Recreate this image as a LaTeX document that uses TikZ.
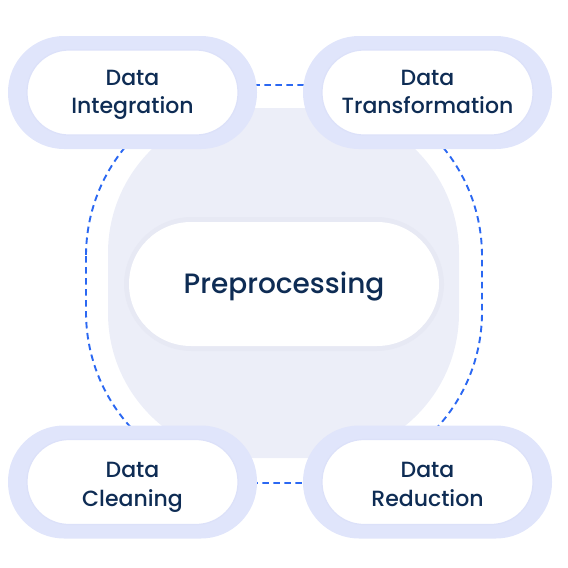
\documentclass[tikz,border=0pt]{standalone}
\usepackage{fontspec}
\setmainfont{Poppins}
\newfontfamily\labfont{Poppins Medium}
\newfontfamily\cenfont{Poppins Medium}
\definecolor{bgc}{HTML}{ECEEF8}
\definecolor{ringc}{HTML}{E0E5FB}
\definecolor{ringdark}{HTML}{DCE1F9}
\definecolor{haloc}{HTML}{E7E9F4}
\definecolor{dashc}{HTML}{2B68F2}
\definecolor{navy}{HTML}{0E2C54}
\tikzset{
  ring/.style={rectangle, rounded corners=56pt, fill=ringc, minimum width=249pt, minimum height=113pt, inner sep=0pt},
  lab/.style={rectangle, rounded corners=42pt, fill=white, draw=ringdark, line width=1.2pt, minimum width=211pt, minimum height=85pt, inner sep=0pt},
  labtext/.style={align=center, text=navy, inner sep=0pt, yshift=-2.5pt, font=\labfont\fontsize{22}{28.5}\selectfont},
  halo/.style={rectangle, rounded corners=68pt, fill=haloc, minimum width=320pt, minimum height=134pt, inner sep=0pt},
  center/.style={rectangle, rounded corners=62pt, fill=white, minimum width=310pt, minimum height=124pt, inner sep=0pt},
  centext/.style={text=navy, inner sep=0pt, yshift=-3pt, font=\cenfont\fontsize{28}{32}\selectfont},
  dashline/.style={draw=dashc, line width=1.9pt, dash pattern=on 6.5pt off 4.5pt}
}
\begin{document}
\begin{tikzpicture}[x=1pt,y=-1pt]
\useasboundingbox (0,0) rectangle (568,568);
\fill[bgc, rounded corners=145pt] (108,108) rectangle (459,458);
\draw[dashline, rounded corners=171pt] (86,85) rectangle (482,483);
\node[ring] (r1) at (132.5,92.5) {};
\node[ring] (r2) at (427.5,92.5) {};
\node[ring] (r3) at (132.5,482) {};
\node[ring] (r4) at (427.5,482) {};
\node[lab] (p1) at (r1) {};
\node[lab] (p2) at (r2) {};
\node[lab] (p3) at (r3) {};
\node[lab] (p4) at (r4) {};
\node[labtext] (integ) at (p1) {Data\\Integration\vphantom{g}};
\node[labtext] (trans) at (p2) {Data\\Transformation\vphantom{g}};
\node[labtext, yshift=-3pt] (clean) at (p3) {Data\\Cleaning\vphantom{g}};
\node[labtext, yshift=-3pt] (reduc) at (p4) {Data\\Reduction\vphantom{g}};
\node[halo] (h) at (284,284) {};
\node[center] (c) at (h) {};
\node[centext] (pre) at (c) {Preprocessing};
\end{tikzpicture}
\end{document}
